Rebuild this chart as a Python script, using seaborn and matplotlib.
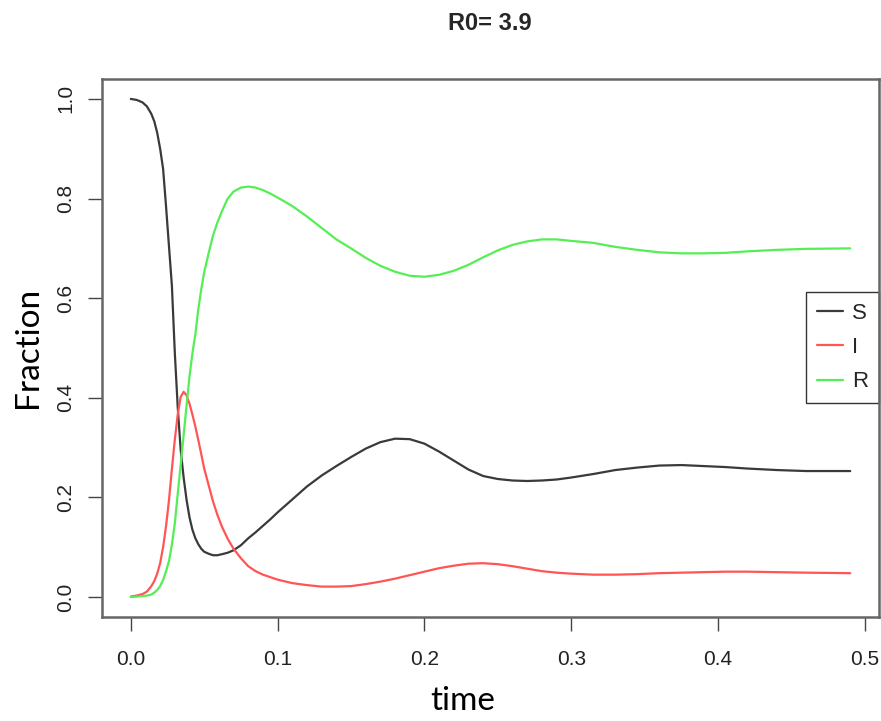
import numpy as np
import pandas as pd
import matplotlib
matplotlib.use("Agg")
import matplotlib.pyplot as plt
from matplotlib.lines import Line2D
import seaborn as sns

# ---------------- data ----------------
time = [0.000, 0.004, 0.008, 0.011, 0.014, 0.016, 0.018, 0.020, 0.022, 0.024,
        0.026, 0.028, 0.030, 0.032, 0.034, 0.036, 0.038, 0.040, 0.042, 0.044,
        0.046, 0.048, 0.050, 0.053, 0.056, 0.059, 0.062, 0.066, 0.070, 0.075,
        0.080, 0.085, 0.090, 0.095, 0.100, 0.110, 0.120, 0.130, 0.140, 0.150,
        0.160, 0.170, 0.180, 0.190, 0.200, 0.210, 0.220, 0.230, 0.240, 0.250,
        0.260, 0.270, 0.280, 0.290, 0.300, 0.315, 0.330, 0.345, 0.360, 0.375,
        0.390, 0.405, 0.420, 0.440, 0.460, 0.490]

S_vals = [1.000, 0.998, 0.993, 0.985, 0.970, 0.955, 0.932, 0.900, 0.860, 0.785,
          0.705, 0.625, 0.490, 0.380, 0.295, 0.240, 0.195, 0.160, 0.135, 0.118,
          0.106, 0.097, 0.091, 0.087, 0.084, 0.084, 0.086, 0.089, 0.094, 0.104,
          0.118, 0.130, 0.143, 0.156, 0.170, 0.196, 0.222, 0.244, 0.263, 0.281,
          0.298, 0.311, 0.318, 0.317, 0.308, 0.292, 0.274, 0.256, 0.243, 0.237,
          0.234, 0.233, 0.234, 0.236, 0.240, 0.247, 0.255, 0.260, 0.264, 0.265,
          0.263, 0.261, 0.258, 0.255, 0.253, 0.253]

I_vals = [0.001, 0.003, 0.006, 0.011, 0.022, 0.032, 0.047, 0.068, 0.100, 0.142,
          0.194, 0.257, 0.316, 0.367, 0.402, 0.412, 0.405, 0.388, 0.366, 0.342,
          0.315, 0.287, 0.258, 0.225, 0.192, 0.165, 0.142, 0.117, 0.097, 0.078,
          0.062, 0.052, 0.045, 0.040, 0.035, 0.028, 0.024, 0.021, 0.021, 0.022,
          0.026, 0.031, 0.037, 0.044, 0.051, 0.058, 0.063, 0.067, 0.068, 0.066,
          0.062, 0.057, 0.052, 0.049, 0.047, 0.045, 0.045, 0.046, 0.048, 0.049,
          0.050, 0.051, 0.051, 0.050, 0.049, 0.048]

R_vals = [0.000, 0.001, 0.002, 0.003, 0.005, 0.009, 0.014, 0.022, 0.034, 0.052,
          0.072, 0.105, 0.148, 0.208, 0.266, 0.325, 0.385, 0.443, 0.490, 0.528,
          0.578, 0.618, 0.652, 0.690, 0.726, 0.752, 0.774, 0.800, 0.814, 0.822,
          0.824, 0.822, 0.817, 0.810, 0.802, 0.785, 0.764, 0.741, 0.718, 0.700,
          0.681, 0.665, 0.653, 0.645, 0.643, 0.647, 0.655, 0.667, 0.682, 0.696,
          0.707, 0.714, 0.718, 0.718, 0.715, 0.711, 0.703, 0.697, 0.692, 0.690,
          0.690, 0.691, 0.694, 0.697, 0.699, 0.700]

series_names = ["S", "I", "R"]
series_colors = {"S": "#3a3a3a", "I": "#ff5555", "R": "#55ee55"}
x_ticks = [0.0, 0.1, 0.2, 0.3, 0.4, 0.5]
x_tick_labels = ["0.0", "0.1", "0.2", "0.3", "0.4", "0.5"]
y_ticks = [0.0, 0.2, 0.4, 0.6, 0.8, 1.0]
y_tick_labels = ["0.0", "0.2", "0.4", "0.6", "0.8", "1.0"]
title_text = "R0= 3.9"
x_label = "time"
y_label = "Fraction"

# ---------------- build long table ----------------
df = pd.concat([
    pd.DataFrame({"time": time, "value": S_vals, "series": "S"}),
    pd.DataFrame({"time": time, "value": I_vals, "series": "I"}),
    pd.DataFrame({"time": time, "value": R_vals, "series": "R"}),
], ignore_index=True)

sns.set_style("white")
narrow = ["Liberation Sans Narrow", "Liberation Sans", "DejaVu Sans"]
regular = ["Liberation Sans", "DejaVu Sans"]
plt.rcParams["font.family"] = regular

W, H = 881, 721
fig = plt.figure(figsize=(W / 100, H / 100), dpi=100)
L, R_, T, B = 102, 879, 79, 617
ax = fig.add_axes([L / W, 1 - B / H, (R_ - L) / W, (B - T) / H])

sns.lineplot(data=df, x="time", y="value", hue="series", hue_order=series_names,
             palette=series_colors, estimator=None, sort=False, legend=False,
             linewidth=1.6, ax=ax)
for ln in ax.get_lines():
    ln.set_solid_joinstyle("round")

ax.set_xlim(-0.0196, 0.5096)
ax.set_ylim(-0.04, 1.04)

ax.set_xticks(x_ticks)
ax.set_xticklabels(x_tick_labels, family=narrow, fontsize=15, color="#222222")
ax.set_yticks(y_ticks)
ax.set_yticklabels(y_tick_labels, family=regular, fontsize=15, color="#222222",
                   rotation=90, va="center")
ax.tick_params(axis="x", direction="out", length=10, width=1.0, color="#444444",
               pad=14, bottom=True)
ax.tick_params(axis="y", direction="out", length=10, width=1.0, color="#444444",
               pad=9, left=True)

for sp in ax.spines.values():
    sp.set_visible(True)
    sp.set_color("#666666")
    sp.set_linewidth(1.8)

ax.set_xlabel(x_label, family=["Lato", "DejaVu Sans"], fontsize=24, color="black")
ax.xaxis.set_label_coords((463 - L) / (R_ - L), (B - 686) / (B - T))
ax.set_ylabel(y_label, family=["Lato", "DejaVu Sans"], fontsize=24, color="black")
ax.yaxis.label.set_va("center")
ax.yaxis.set_label_coords((28 - L) / (R_ - L), (B - 347.5) / (B - T))

fig.text(490 / W, 1 - 23 / H, title_text, ha="center", va="center",
         family=narrow, fontweight="bold", fontsize=17)

handles = [Line2D([0], [0], color=series_colors[n], lw=1.6) for n in series_names]
leg = ax.legend(handles, series_names, loc="center right",
                bbox_to_anchor=(1.0, (B - 347.5) / (B - T)),
                prop={"family": narrow, "size": 16},
                frameon=True, fancybox=False, framealpha=1, edgecolor="#333333",
                borderpad=0.5, handlelength=1.15, handletextpad=0.4,
                labelspacing=0.6, borderaxespad=0)
leg.get_frame().set_linewidth(1.0)
leg.set_zorder(1)

fig.savefig("out.png", dpi=100)
